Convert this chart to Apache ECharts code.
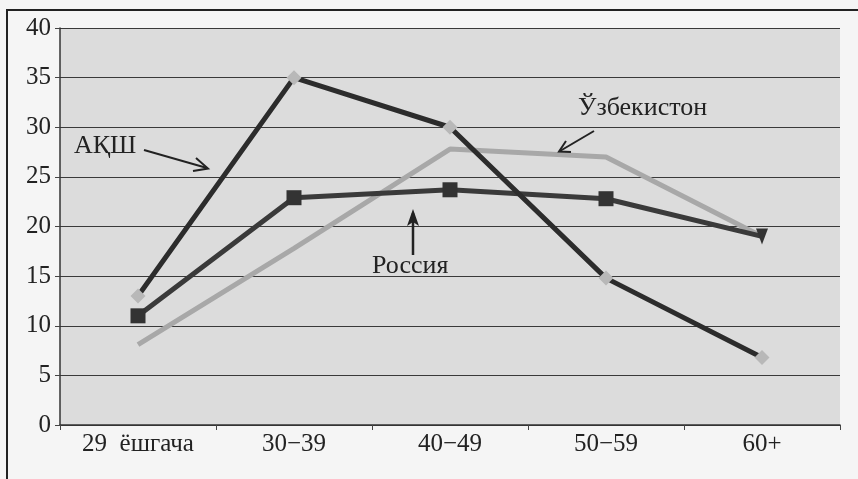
<!DOCTYPE html>
<html>
<head>
<meta charset="utf-8">
<script src="https://cdn.jsdelivr.net/npm/echarts@6/dist/echarts.min.js"></script>
<style>
  html, body { margin: 0; padding: 0; background: #f5f5f5; }
  #chart { width: 858px; height: 479px; }
</style>
</head>
<body>
<div id="chart"></div>
<script>
// Age groups along the horizontal axis
const ageGroups = ['29  ёшгача', '30\u221239', '40\u221249', '50\u221259', '60+'];

// Share of each age group, per country (%)
const usa = [13, 35, 30, 14.8, 6.8];
const russia = [11, 22.9, 23.7, 22.8, 19];
const uzbekistan = [8.1, 17.8, 27.8, 27, 19];

// Vertical axis range
const yMin = 0, yMax = 40, yStep = 5;

const serif = '"Liberation Serif", "DejaVu Serif", serif';
const captionFont = '26px ' + serif;
const chart = echarts.init(document.getElementById('chart'));

chart.setOption({
  animation: false,
  backgroundColor: '#f5f5f5',
  grid: {
    left: 60, right: 18, top: 28, bottom: 54,
    show: true, backgroundColor: '#dcdcdc', borderWidth: 0
  },
  xAxis: {
    type: 'category',
    data: ageGroups,
    boundaryGap: true,
    axisLine: { lineStyle: { color: '#333', width: 1.5 } },
    axisTick: { show: true, length: 5, lineStyle: { color: '#444' } },
    axisLabel: { color: '#222', fontFamily: serif, fontSize: 25, margin: 7 }
  },
  yAxis: {
    type: 'value',
    min: yMin, max: yMax, interval: yStep,
    axisLine: { show: true, lineStyle: { color: '#333', width: 1.5 } },
    axisTick: { show: true, length: 5, lineStyle: { color: '#444' } },
    axisLabel: { color: '#222', fontFamily: serif, fontSize: 25, margin: 9 },
    splitLine: { lineStyle: { color: '#3a3a3a', width: 1 } }
  },
  series: [
    {
      name: 'Ўзбекистон',
      type: 'line',
      data: uzbekistan,
      symbol: 'none',
      lineStyle: { color: '#a8a8a8', width: 5 },
      z: 2
    },
    {
      name: 'Россия',
      type: 'line',
      data: russia,
      symbol: (v, p) => (p.dataIndex === ageGroups.length - 1 ? 'triangle' : 'rect'),
      symbolRotate: (v, p) => (p.dataIndex === ageGroups.length - 1 ? 180 : 0),
      symbolSize: (v, p) => (p.dataIndex === ageGroups.length - 1 ? [12, 16] : 15),
      lineStyle: { color: '#3a3a3a', width: 5 },
      itemStyle: { color: '#333', borderWidth: 0 },
      z: 3
    },
    {
      name: 'АҚШ',
      type: 'line',
      data: usa,
      symbol: 'diamond',
      symbolSize: 15,
      lineStyle: { color: '#2c2c2c', width: 5 },
      itemStyle: { color: '#b8b8b8', borderWidth: 0 },
      z: 4
    }
  ],
  graphic: [
    // outer frame
    { type: 'rect', shape: { x: 7, y: 10, width: 870, height: 490 },
      style: { fill: 'none', stroke: '#222', lineWidth: 2 }, z: 10 },
    // series captions with pointer arrows
    { type: 'text', z: 20,
      style: { x: 74, y: 146, text: 'АҚШ', font: captionFont, fill: '#222', verticalAlign: 'middle' } },
    { type: 'line', shape: { x1: 144, y1: 150, x2: 207, y2: 168 },
      style: { stroke: '#222', lineWidth: 2 }, z: 20 },
    { type: 'polyline', shape: { points: [[196, 158], [208, 168.5], [193, 171]] },
      style: { stroke: '#222', lineWidth: 2, fill: 'none' }, z: 20 },

    { type: 'text', z: 20,
      style: { x: 578, y: 108, text: 'Ўзбекистон', font: captionFont, fill: '#222', verticalAlign: 'middle' } },
    { type: 'line', shape: { x1: 594, y1: 131, x2: 560, y2: 151 },
      style: { stroke: '#222', lineWidth: 2 }, z: 20 },
    { type: 'polyline', shape: { points: [[566, 141], [559, 151.5], [571, 152]] },
      style: { stroke: '#222', lineWidth: 2, fill: 'none' }, z: 20 },

    { type: 'text', z: 20,
      style: { x: 372, y: 266, text: 'Россия', font: captionFont, fill: '#222', verticalAlign: 'middle' } },
    { type: 'line', shape: { x1: 413, y1: 255, x2: 413, y2: 213 },
      style: { stroke: '#222', lineWidth: 2.5 }, z: 20 },
    { type: 'polygon', shape: { points: [[407, 226], [413, 209], [419, 226], [413, 222]] },
      style: { fill: '#222' }, z: 20 }
  ]
});
</script>
</body>
</html>
